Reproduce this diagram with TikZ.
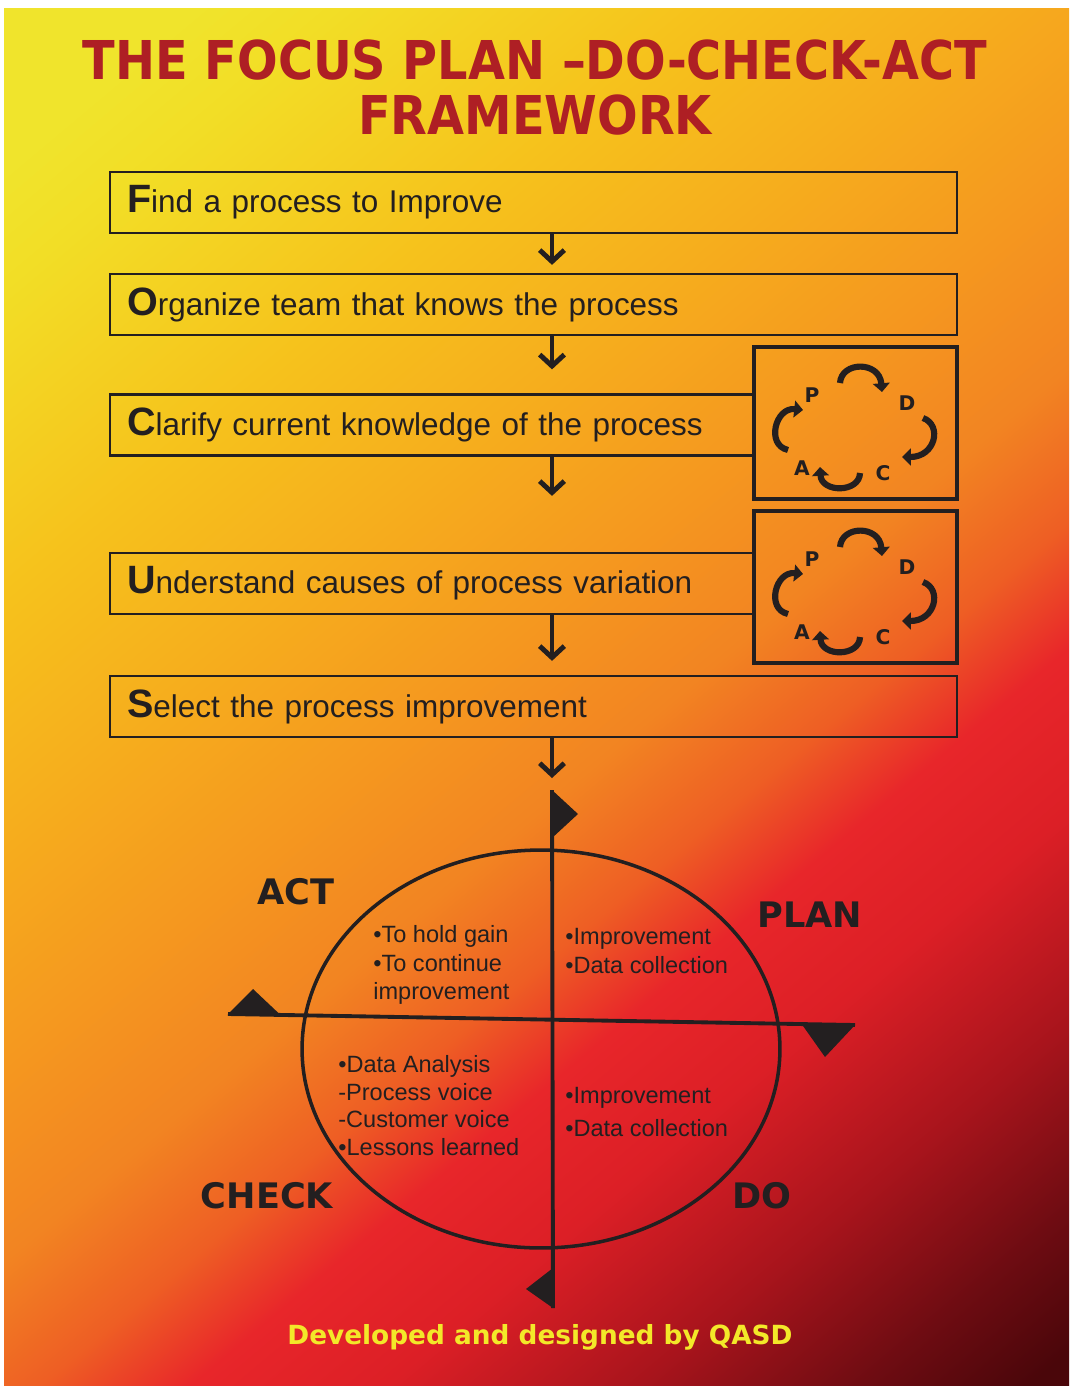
\documentclass[tikz,border=0pt]{standalone}
\usepackage{fontspec}
\setmainfont{Liberation Sans}
\newfontfamily\blackfont{DejaVu Sans}
\usepackage{tikz}
\usetikzlibrary{positioning,shapes,arrows.meta}

\definecolor{titlered}{HTML}{AE1F24}
\definecolor{creditylw}{HTML}{F3E829}
\definecolor{inkgray}{HTML}{231F20}
% background colours, bottom-right to top-left
\definecolor{bga}{HTML}{4A060A}
\definecolor{bgb}{HTML}{6E0C12}
\definecolor{bgc}{HTML}{A8141C}
\definecolor{bgd}{HTML}{DC1F26}
\definecolor{bge}{HTML}{E8262A}
\definecolor{bgf}{HTML}{EE5E24}
\definecolor{bgg}{HTML}{F28422}
\definecolor{bgh}{HTML}{F5981F}
\definecolor{bgi}{HTML}{F6AE1D}
\definecolor{bgj}{HTML}{F6C21C}
\definecolor{bgk}{HTML}{F2DE26}
\definecolor{bgl}{HTML}{F0E42C}
\pgfdeclareverticalshading{posterbg}{100bp}{color(0bp)=(bga); color(26.5bp)=(bga);
  color(29.5bp)=(bgb); color(33.5bp)=(bgc); color(38bp)=(bgd); color(41.5bp)=(bge);
  color(44.2bp)=(bgf); color(47.5bp)=(bgg); color(51.7bp)=(bgh); color(56.7bp)=(bgi);
  color(61.7bp)=(bgj); color(68.3bp)=(bgk); color(70.8bp)=(bgl); color(100bp)=(bgl)}

\newcommand\initletter[1]{{\fontsize{22.5}{22.5}\selectfont\bfseries #1}}

% small P-D-C-A wheel inside a box node
\newcommand\pdcacycle[1]{%
  \begin{scope}[shift={(#1.center)}]
    \node[cycletter] (#1-p) at (-43.5,-28) {P};
    \node[cycletter] (#1-d) at (51.5,-20) {D};
    \node[cycletter] (#1-c) at (27.5,50) {C};
    \node[cycletter] (#1-a) at (-53.5,45) {A};
    \draw[cycarrow] (-15.5,-40) .. controls (-14,-62) and (24,-62) .. (26.5,-31);
    \draw[cycarrow] (67.5,-5) .. controls (87,2) and (80,34) .. (46.5,34);
    \draw[cycarrow] (4.5,50) .. controls (4,70) and (-34,70) .. (-35.5,44);
    \draw[cycarrow] (-67.5,27) .. controls (-90,22) and (-80,-16) .. (-52.5,-13);
  \end{scope}}

\begin{document}
\begin{tikzpicture}[x=0.02cm, y=-0.02cm,
  stepbox/.style={draw=inkgray, line width=1.3pt, inner xsep=0.34cm, inner ysep=0pt,
    minimum height=1.22cm, align=left, text=inkgray, font=\fontsize{17.9}{20}\selectfont},
  cycbox/.style={draw=inkgray, line width=2pt, minimum width=4.06cm, minimum height=3.04cm, inner sep=0pt},
  cycletter/.style={text=inkgray, inner sep=0pt, font=\blackfont\bfseries\fontsize{11.5}{12}\selectfont},
  cycarrow/.style={draw=inkgray, line width=3.5pt, -{Triangle[length=5pt, width=9.5pt]}},
  flow/.style={draw=inkgray, line width=2.8pt, -{Straight Barb[length=6.5pt, width=14pt]}},
  axisline/.style={draw=inkgray, line width=2.2pt},
  phase/.style={text=inkgray, inner sep=0pt, font=\blackfont\bfseries\fontsize{20}{22}\selectfont},
  quadtext/.style={text=inkgray, inner sep=0pt, align=left, anchor=west},
  titletext/.style={text=titlered, inner sep=0pt, font=\blackfont\bfseries\fontsize{27.2}{30}\selectfont}]

\useasboundingbox (0,0) rectangle (1069,1386);
\fill[white] (0,0) rectangle (1069,1386);
\begin{scope}
  \clip (4,8) rectangle (1069,1386);
  \shade[shading=posterbg, shading angle=40] (-363.5,-203) rectangle (1436.5,1597);
\end{scope}

% Title
\node[titletext] (title) at (535,60) {\scalebox{1}[1.12]{THE FOCUS PLAN –DO-CHECK-ACT}};
\node[titletext] (title2) at (535,115) {\scalebox{1}[1.12]{FRAMEWORK}};

% FOCUS steps
\node[stepbox, text width=16.26cm] (find) at (533.5,202.5) {\initletter{F}ind a process to Improve};
\node[stepbox, text width=16.26cm] (organize) at (533.5,304.5) {\initletter{O}rganize team that knows the process};
\node[stepbox, text width=12.2cm] (clarify) at (432,425) {\initletter{C}larify current knowledge of the process};
\node[stepbox, text width=12.2cm] (understand) at (432,583.5) {\initletter{U}nderstand causes of process variation};
\node[stepbox, text width=16.26cm] (select) at (533.5,706.5) {\initletter{S}elect the process improvement};

\node[cycbox] (cyc1) at (855.5,423) {};
\node[cycbox] (cyc2) at (855.5,587) {};
\pdcacycle{cyc1}
\pdcacycle{cyc2}

% PDCA wheel
\coordinate (vtop) at (552,790);
\coordinate (vbot) at (553,1308);
\coordinate (hleft) at (228,1014);
\coordinate (hright) at (855,1025);
\node[draw=inkgray, line width=2pt, ellipse, minimum width=9.56cm, minimum height=7.96cm, inner sep=0pt] (wheel) at (541,1049) {};
\draw[axisline] (vtop) -- (vbot);
\draw[axisline] (hleft) -- (hright);
\fill[inkgray] (vtop) -- (578,814) -- (552,838) -- cycle;
\fill[inkgray] (vbot) -- (526,1289) -- (553,1268) -- cycle;
\fill[inkgray] (hleft) -- (253,989) -- (280,1014.5) -- cycle;
\fill[inkgray] (hright) -- (825,1057) -- (802,1024.5) -- cycle;

% Arrows
\draw[flow, shorten >=0.16cm] (find.south -| vtop) -- (organize.north -| vtop);
\draw[flow, shorten >=0.48cm] (organize.south -| vtop) -- (clarify.north -| vtop);
\draw[flow, shorten >=1.12cm] (clarify.south -| vtop) -- (understand.north -| vtop);
\draw[flow, shorten >=0.28cm] (understand.south -| vtop) -- (select.north -| vtop);
\draw[flow, shorten >=0.24cm] (select.south -| vtop) -- (vtop);

% Labels
\node[phase] (act) at (296,892) {ACT};
\node[phase] (plan) at (810,915) {PLAN};
\node[phase] (check) at (267,1196) {CHECK};
\node[phase] (do) at (762,1196) {DO};

\node[quadtext, font=\fontsize{13.4}{16.4}\selectfont] (actnote) at (373,965) {•To hold gain\\•To continue\\improvement};
\node[quadtext, font=\fontsize{13.4}{17}\selectfont] (plannote) at (565,951) {•Improvement\\•Data collection};
\node[quadtext, font=\fontsize{13.4}{15.7}\selectfont] (checknote) at (338,1105.5) {•Data Analysis\\-Process voice\\-Customer voice\\•Lessons learned};
\node[quadtext, font=\fontsize{13.4}{19.3}\selectfont] (donote) at (565,1112) {•Improvement\\•Data collection};

\node[text=creditylw, inner sep=0pt, font=\blackfont\bfseries\fontsize{15}{17}\selectfont] (credit) at (540,1337) {Developed and designed by QASD};
\end{tikzpicture}
\end{document}
